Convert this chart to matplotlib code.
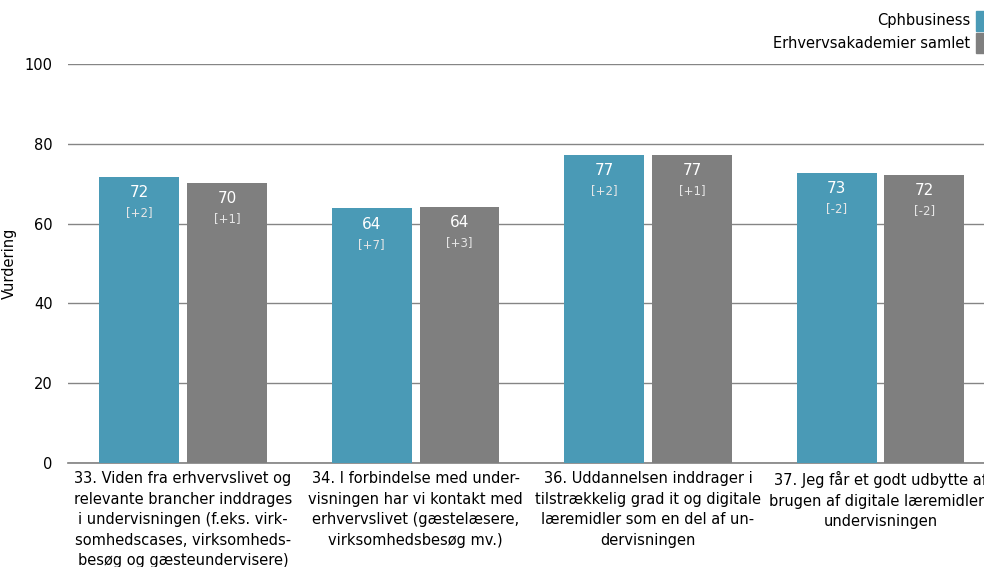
import matplotlib.pyplot as plt
from matplotlib.patches import Rectangle
import numpy as np

# data
categories = [
    "33. Viden fra erhvervslivet og\nrelevante brancher inddrages\ni undervisningen (f.eks. virk-\nsomhedscases, virksomheds-\nbesøg og gæsteundervisere)",
    "34. I forbindelse med under-\nvisningen har vi kontakt med\nerhvervslivet (gæstelæsere,\nvirksomhedsbesøg mv.)",
    "36. Uddannelsen inddrager i\ntilstrækkelig grad it og digitale\nlæremidler som en del af un-\ndervisningen",
    "37. Jeg får et godt udbytte af\nbrugen af digitale læremidler i\nundervisningen",
]
series_names = ["Cphbusiness", "Erhvervsakademier samlet"]
cph_values = [71.7, 63.9, 77.2, 72.7]
eak_values = [70.2, 64.2, 77.3, 72.2]
cph_labels = ["72", "64", "77", "73"]
eak_labels = ["70", "64", "77", "72"]
cph_change = ["[+2]", "[+7]", "[+2]", "[-2]"]
eak_change = ["[+1]", "[+3]", "[+1]", "[-2]"]
yticks = [0, 20, 40, 60, 80, 100]

TEAL = "#4a9ab6"
GRAY = "#7f7f7f"
FONT = "DejaVu Sans"

plt.rcParams['font.family'] = [FONT]

fig = plt.figure(figsize=(9.84, 5.67), dpi=100)
ax = fig.add_axes([68 / 984, 1 - 463 / 567, 1 - 68 / 984, (463 - 64) / 567])

x = np.arange(len(categories))
w = 0.344
off = (w + 0.034) / 2

b1 = ax.bar(x - off, cph_values, w, color=TEAL, zorder=3)
b2 = ax.bar(x + off, eak_values, w, color=GRAY, zorder=3)

# value labels inside the bars
for bars, vals, labs, chg in [(b1, cph_values, cph_labels, cph_change),
                              (b2, eak_values, eak_labels, eak_change)]:
    for bar, v, lab, c in zip(bars, vals, labs, chg):
        cx = bar.get_x() + bar.get_width() / 2
        ax.annotate(lab, (cx, v), xytext=(0, -16), textcoords="offset pixels",
                    ha="center", va="center", color="white", fontsize=11, zorder=4)
        ax.annotate(c, (cx, v), xytext=(0, -36), textcoords="offset pixels",
                    ha="center", va="center", color="#e6e6e6", fontsize=8.5, zorder=4)

ax.set_xlim(-0.495, 3.445)
ax.set_ylim(0, 100)
ax.set_yticks(yticks)
ax.set_yticklabels([str(t) for t in yticks], fontsize=10.5)
ax.tick_params(axis="y", length=0, pad=11)
ax.set_xticks(x)
ax.set_xticklabels(categories, fontsize=10.5, linespacing=1.45)
ax.tick_params(axis="x", length=0, pad=6)
ax.grid(axis="y", color="#858585", linewidth=1, zorder=0)
ax.set_axisbelow(True)
for s in ["top", "right", "left"]:
    ax.spines[s].set_visible(False)
ax.spines["bottom"].set_color("#808080")
ax.spines["bottom"].set_linewidth(1.2)
ax.set_ylabel("Vurdering", fontsize=10.5)
ax.yaxis.set_label_coords(-51 / 916, 0.5)

# legend drawn at the top right, squares to the right of the text
for i, (name, col) in enumerate(zip(series_names, [TEAL, GRAY])):
    yc = 21 + 22 * i
    fig.text(970 / 984, 1 - yc / 567, name, ha="right", va="center", fontsize=10.5)
    fig.add_artist(Rectangle((976 / 984, 1 - (yc + 10) / 567), 12 / 984, 20 / 567,
                             color=col, transform=fig.transFigure))

fig.savefig("out.png", dpi=100)
